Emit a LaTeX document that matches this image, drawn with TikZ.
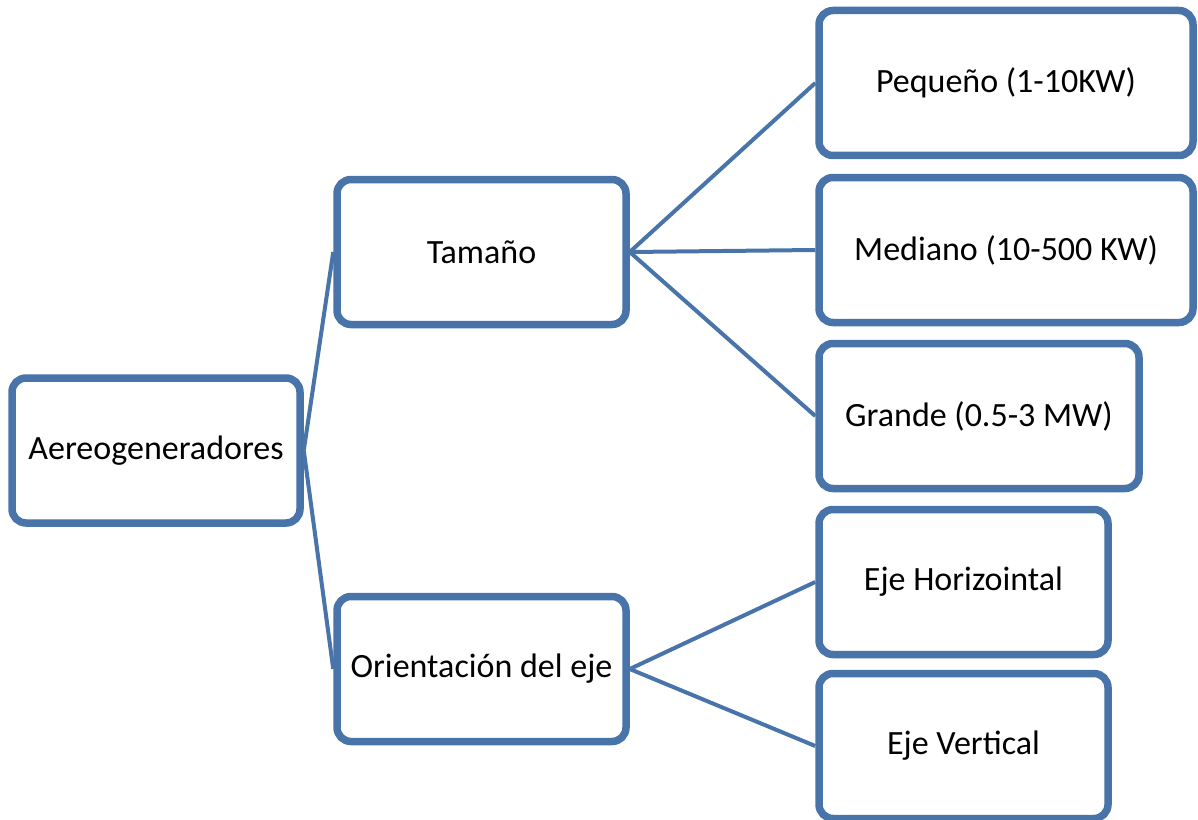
\documentclass[tikz,border=0pt]{standalone}
\usepackage{fontspec}
\setmainfont{Carlito}
\usetikzlibrary{shadows}
\newdimen\px \px=0.75pt
\definecolor{boxblue}{RGB}{72,116,170}
\tikzset{
  box/.style={draw=boxblue, line width=7.5\px, fill=white, rounded corners=14\px,
    minimum height=145\px, inner sep=0pt, font=\fontsize{25.5}{30}\selectfont,
    drop shadow={shadow xshift=1.5\px, shadow yshift=-3\px, opacity=0.3, fill=black}},
  link/.style={draw=boxblue, line width=4\px}
}
\begin{document}
\begin{tikzpicture}[x=0.75pt, y=-0.75pt]
\useasboundingbox (0,0) rectangle (1198,820);
\node[box, minimum width=288\px] (A) at (156,450.5) {Aereogeneradores};
\node[box, minimum width=289\px] (T) at (481.5,252) {Tamaño};
\node[box, minimum width=289\px] (O) at (481.5,669) {Orientación del eje};
\node[box, minimum width=374\px] (P) at (1006,83) {Pequeño (1-10KW)};
\node[box, minimum width=374\px] (M) at (1006,250) {Mediano (10-500 KW)};
\node[box, minimum width=320\px] (G) at (979,416) {Grande (0.5-3 MW)};
\node[box, minimum width=289\px] (H) at (963.5,582) {Eje Horizointal};
\node[box, minimum width=289\px] (V) at (963.5,746) {Eje Vertical};
\draw[link] (A.east) -- (T.west);
\draw[link] (A.east) -- (O.west);
\draw[link] (T.east) -- (P.west);
\draw[link] (T.east) -- (M.west);
\draw[link] (T.east) -- (G.west);
\draw[link] (O.east) -- (H.west);
\draw[link] (O.east) -- (V.west);
\end{tikzpicture}
\end{document}
